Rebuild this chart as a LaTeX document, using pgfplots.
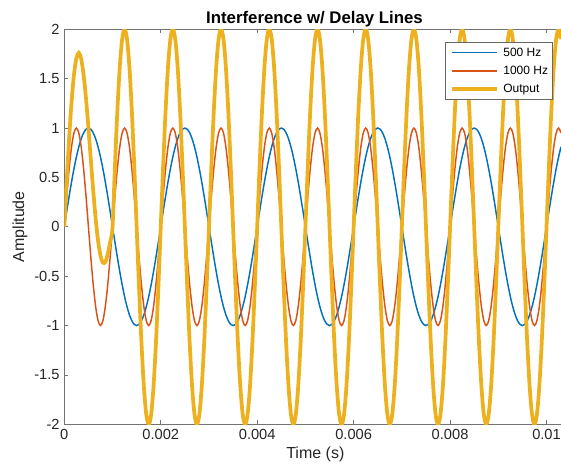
\documentclass[border=0pt]{standalone}
\usepackage{fontspec}
\setmainfont{Liberation Sans}
\usepackage{pgfplots}
\usepackage{pgfplotstable}
\pgfplotsset{compat=1.18}
\definecolor{mblue}{RGB}{0,114,189}
\definecolor{morange}{RGB}{217,83,25}
\definecolor{myellow}{RGB}{237,177,32}

% t [s], 500 Hz, 1000 Hz, output
\pgfplotstableread{
t a b y
0.00000 0 0 0
0.00005 0.1564 0.3090 0.4654
0.00010 0.3090 0.5878 0.8968
0.00015 0.4540 0.8090 1.2630
0.00020 0.5878 0.9511 1.5389
0.00025 0.7071 1 1.7071
0.00030 0.8090 0.9511 1.7601
0.00035 0.8910 0.8090 1.7000
0.00040 0.9511 0.5878 1.5389
0.00045 0.9877 0.3090 1.2967
0.00050 1 0 1
0.00055 0.9877 -0.3090 0.6787
0.00060 0.9511 -0.5878 0.3633
0.00065 0.8910 -0.8090 0.0820
0.00070 0.8090 -0.9511 -0.1421
0.00075 0.7071 -1 -0.2929
0.00080 0.5878 -0.9511 -0.3633
0.00085 0.4540 -0.8090 -0.3550
0.00090 0.3090 -0.5878 -0.2788
0.00095 0.1564 -0.3090 -0.1526
0.00100 0 0 0
0.00105 -0.1564 0.3090 0.6180
0.00110 -0.3090 0.5878 1.1756
0.00115 -0.4540 0.8090 1.6180
0.00120 -0.5878 0.9511 1.9021
0.00125 -0.7071 1 2
0.00130 -0.8090 0.9511 1.9021
0.00135 -0.8910 0.8090 1.6180
0.00140 -0.9511 0.5878 1.1756
0.00145 -0.9877 0.3090 0.6180
0.00150 -1 0 0
0.00155 -0.9877 -0.3090 -0.6180
0.00160 -0.9511 -0.5878 -1.1756
0.00165 -0.8910 -0.8090 -1.6180
0.00170 -0.8090 -0.9511 -1.9021
0.00175 -0.7071 -1 -2
0.00180 -0.5878 -0.9511 -1.9021
0.00185 -0.4540 -0.8090 -1.6180
0.00190 -0.3090 -0.5878 -1.1756
0.00195 -0.1564 -0.3090 -0.6180
0.00200 0 0 0
0.00205 0.1564 0.3090 0.6180
0.00210 0.3090 0.5878 1.1756
0.00215 0.4540 0.8090 1.6180
0.00220 0.5878 0.9511 1.9021
0.00225 0.7071 1 2
0.00230 0.8090 0.9511 1.9021
0.00235 0.8910 0.8090 1.6180
0.00240 0.9511 0.5878 1.1756
0.00245 0.9877 0.3090 0.6180
0.00250 1 0 0
0.00255 0.9877 -0.3090 -0.6180
0.00260 0.9511 -0.5878 -1.1756
0.00265 0.8910 -0.8090 -1.6180
0.00270 0.8090 -0.9511 -1.9021
0.00275 0.7071 -1 -2
0.00280 0.5878 -0.9511 -1.9021
0.00285 0.4540 -0.8090 -1.6180
0.00290 0.3090 -0.5878 -1.1756
0.00295 0.1564 -0.3090 -0.6180
0.00300 0 0 0
0.00305 -0.1564 0.3090 0.6180
0.00310 -0.3090 0.5878 1.1756
0.00315 -0.4540 0.8090 1.6180
0.00320 -0.5878 0.9511 1.9021
0.00325 -0.7071 1 2
0.00330 -0.8090 0.9511 1.9021
0.00335 -0.8910 0.8090 1.6180
0.00340 -0.9511 0.5878 1.1756
0.00345 -0.9877 0.3090 0.6180
0.00350 -1 0 0
0.00355 -0.9877 -0.3090 -0.6180
0.00360 -0.9511 -0.5878 -1.1756
0.00365 -0.8910 -0.8090 -1.6180
0.00370 -0.8090 -0.9511 -1.9021
0.00375 -0.7071 -1 -2
0.00380 -0.5878 -0.9511 -1.9021
0.00385 -0.4540 -0.8090 -1.6180
0.00390 -0.3090 -0.5878 -1.1756
0.00395 -0.1564 -0.3090 -0.6180
0.00400 0 0 0
0.00405 0.1564 0.3090 0.6180
0.00410 0.3090 0.5878 1.1756
0.00415 0.4540 0.8090 1.6180
0.00420 0.5878 0.9511 1.9021
0.00425 0.7071 1 2
0.00430 0.8090 0.9511 1.9021
0.00435 0.8910 0.8090 1.6180
0.00440 0.9511 0.5878 1.1756
0.00445 0.9877 0.3090 0.6180
0.00450 1 0 0
0.00455 0.9877 -0.3090 -0.6180
0.00460 0.9511 -0.5878 -1.1756
0.00465 0.8910 -0.8090 -1.6180
0.00470 0.8090 -0.9511 -1.9021
0.00475 0.7071 -1 -2
0.00480 0.5878 -0.9511 -1.9021
0.00485 0.4540 -0.8090 -1.6180
0.00490 0.3090 -0.5878 -1.1756
0.00495 0.1564 -0.3090 -0.6180
0.00500 0 0 0
0.00505 -0.1564 0.3090 0.6180
0.00510 -0.3090 0.5878 1.1756
0.00515 -0.4540 0.8090 1.6180
0.00520 -0.5878 0.9511 1.9021
0.00525 -0.7071 1 2
0.00530 -0.8090 0.9511 1.9021
0.00535 -0.8910 0.8090 1.6180
0.00540 -0.9511 0.5878 1.1756
0.00545 -0.9877 0.3090 0.6180
0.00550 -1 0 0
0.00555 -0.9877 -0.3090 -0.6180
0.00560 -0.9511 -0.5878 -1.1756
0.00565 -0.8910 -0.8090 -1.6180
0.00570 -0.8090 -0.9511 -1.9021
0.00575 -0.7071 -1 -2
0.00580 -0.5878 -0.9511 -1.9021
0.00585 -0.4540 -0.8090 -1.6180
0.00590 -0.3090 -0.5878 -1.1756
0.00595 -0.1564 -0.3090 -0.6180
0.00600 0 0 0
0.00605 0.1564 0.3090 0.6180
0.00610 0.3090 0.5878 1.1756
0.00615 0.4540 0.8090 1.6180
0.00620 0.5878 0.9511 1.9021
0.00625 0.7071 1 2
0.00630 0.8090 0.9511 1.9021
0.00635 0.8910 0.8090 1.6180
0.00640 0.9511 0.5878 1.1756
0.00645 0.9877 0.3090 0.6180
0.00650 1 0 0
0.00655 0.9877 -0.3090 -0.6180
0.00660 0.9511 -0.5878 -1.1756
0.00665 0.8910 -0.8090 -1.6180
0.00670 0.8090 -0.9511 -1.9021
0.00675 0.7071 -1 -2
0.00680 0.5878 -0.9511 -1.9021
0.00685 0.4540 -0.8090 -1.6180
0.00690 0.3090 -0.5878 -1.1756
0.00695 0.1564 -0.3090 -0.6180
0.00700 0 0 0
0.00705 -0.1564 0.3090 0.6180
0.00710 -0.3090 0.5878 1.1756
0.00715 -0.4540 0.8090 1.6180
0.00720 -0.5878 0.9511 1.9021
0.00725 -0.7071 1 2
0.00730 -0.8090 0.9511 1.9021
0.00735 -0.8910 0.8090 1.6180
0.00740 -0.9511 0.5878 1.1756
0.00745 -0.9877 0.3090 0.6180
0.00750 -1 0 0
0.00755 -0.9877 -0.3090 -0.6180
0.00760 -0.9511 -0.5878 -1.1756
0.00765 -0.8910 -0.8090 -1.6180
0.00770 -0.8090 -0.9511 -1.9021
0.00775 -0.7071 -1 -2
0.00780 -0.5878 -0.9511 -1.9021
0.00785 -0.4540 -0.8090 -1.6180
0.00790 -0.3090 -0.5878 -1.1756
0.00795 -0.1564 -0.3090 -0.6180
0.00800 0 0 0
0.00805 0.1564 0.3090 0.6180
0.00810 0.3090 0.5878 1.1756
0.00815 0.4540 0.8090 1.6180
0.00820 0.5878 0.9511 1.9021
0.00825 0.7071 1 2
0.00830 0.8090 0.9511 1.9021
0.00835 0.8910 0.8090 1.6180
0.00840 0.9511 0.5878 1.1756
0.00845 0.9877 0.3090 0.6180
0.00850 1 0 0
0.00855 0.9877 -0.3090 -0.6180
0.00860 0.9511 -0.5878 -1.1756
0.00865 0.8910 -0.8090 -1.6180
0.00870 0.8090 -0.9511 -1.9021
0.00875 0.7071 -1 -2
0.00880 0.5878 -0.9511 -1.9021
0.00885 0.4540 -0.8090 -1.6180
0.00890 0.3090 -0.5878 -1.1756
0.00895 0.1564 -0.3090 -0.6180
0.00900 0 0 0
0.00905 -0.1564 0.3090 0.6180
0.00910 -0.3090 0.5878 1.1756
0.00915 -0.4540 0.8090 1.6180
0.00920 -0.5878 0.9511 1.9021
0.00925 -0.7071 1 2
0.00930 -0.8090 0.9511 1.9021
0.00935 -0.8910 0.8090 1.6180
0.00940 -0.9511 0.5878 1.1756
0.00945 -0.9877 0.3090 0.6180
0.00950 -1 0 0
0.00955 -0.9877 -0.3090 -0.6180
0.00960 -0.9511 -0.5878 -1.1756
0.00965 -0.8910 -0.8090 -1.6180
0.00970 -0.8090 -0.9511 -1.9021
0.00975 -0.7071 -1 -2
0.00980 -0.5878 -0.9511 -1.9021
0.00985 -0.4540 -0.8090 -1.6180
0.00990 -0.3090 -0.5878 -1.1756
0.00995 -0.1564 -0.3090 -0.6180
0.01000 0 0 0
0.01005 0.1564 0.3090 0.6180
0.01010 0.3090 0.5878 1.1756
0.01015 0.4540 0.8090 1.6180
0.01020 0.5878 0.9511 1.9021
0.01025 0.7071 1 2
0.01030 0.8090 0.9511 1.9021
}\sigdata

\begin{document}
\begin{tikzpicture}
\begin{axis}[
  scale only axis,
  width=372.5pt, height=296.25pt,
  xmin=0, xmax=0.0103, ymin=-2, ymax=2,
  axis x line*=box, axis y line*=left,
  axis line style={draw=black!55, line width=0.6pt, -},
  tick style={draw=black!55, line width=0.6pt},
  major tick length=3pt,
  tick align=inside,
  xtick={0,0.002,0.004,0.006,0.008,0.01},
  xticklabels={0,0.002,0.004,0.006,0.008,0.01},
  scaled x ticks=false,
  ytick={-2,-1.5,-1,-0.5,0,0.5,1,1.5,2},
  /pgf/number format/assume math mode=true,
  tick label style={font=\fontsize{11}{13}\selectfont, text=black!85},
  title={Interference w/ Delay Lines},
  every axis title shift=0pt,
  title style={font=\bfseries\fontsize{12.6}{15}\selectfont, text=black, at={(0.5,1)}, anchor=base, yshift=4pt, xshift=1.4pt},
  xlabel={Time (s)},
  xlabel style={font=\fontsize{12}{14}\selectfont, text=black!85, at={(0.5,0)}, anchor=base, yshift=-26pt, xshift=2pt},
  ylabel={Amplitude},
  ylabel style={font=\fontsize{12}{14}\selectfont, text=black!85, at={(rel axis cs:-0.0811,0.5)}, anchor=base},
  legend cell align=left,
  legend image code/.code={\draw[#1] (0pt,0pt) -- (34pt,0pt);},
  legend style={at={(rel axis cs:0.984,0.967)}, anchor=north east,
    draw=black!60, line width=0.5pt, fill=white,
    font=\fontsize{9}{10}\selectfont,
    inner xsep=3.5pt, inner ysep=3pt, row sep=4.7pt,
    nodes={inner sep=0pt, text height=7pt, text depth=2pt},
    /tikz/every odd column/.append style={column sep=3pt}},
]
\addplot[color=mblue, line width=1.1pt, smooth] table[x=t, y=a] {\sigdata};
\addplot[color=morange, line width=1.1pt, smooth] table[x=t, y=b] {\sigdata};
\addplot[color=myellow, line width=2.8pt, smooth] table[x=t, y=y] {\sigdata};
\legend{500 Hz, 1000 Hz, Output}
\coordinate (bl) at (rel axis cs:-0.1295,-0.1208);
\coordinate (tr) at (rel axis cs:1,1.0742);
\end{axis}
\pgfresetboundingbox
\path[use as bounding box] (bl) rectangle (tr);
\end{tikzpicture}
\end{document}
